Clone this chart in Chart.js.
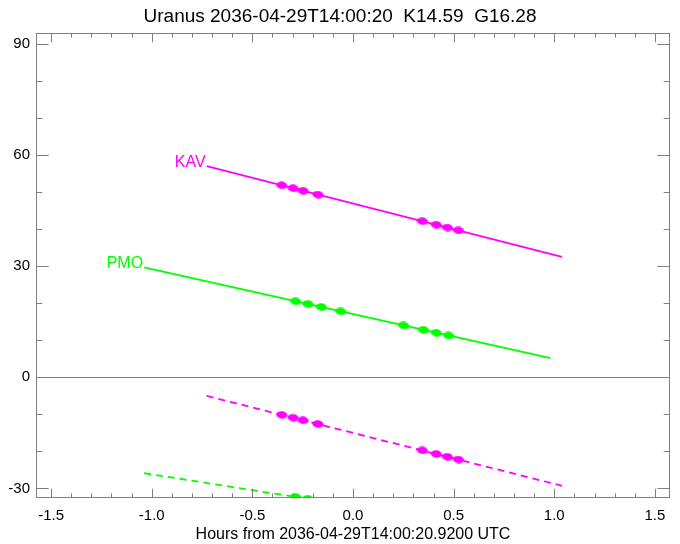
<!DOCTYPE html>
<html lang="en">
<head>
<meta charset="UTF-8">
<title>Uranus 2036-04-29T14:00:20</title>
<script src="https://cdn.jsdelivr.net/npm/chart.js"></script>
<style>
  html, body { margin: 0; padding: 0; background: #fff; }
  #wrap { width: 680px; height: 544px; }
</style>
</head>
<body>
<div id="wrap"><canvas id="uranusChart" width="680" height="544"></canvas></div>
<script>
// tick labels
const xTicks = [-1.5, -1.0, -0.5, 0.0, 0.5, 1.0, 1.5];
const yTicks = [-30, 0, 30, 60, 90];

// KAV track (solid = upper curve, dashed = lower curve)
const kavLineX = [-0.727, 1.038];
const kavLineY = [56.95, 32.5];
const kavDashY = [-5.04, -29.3];
const kavDotX = [-0.354, -0.297, -0.248, -0.174, 0.345, 0.414, 0.469, 0.524];
const kavDotY = [51.78, 50.99, 50.32, 49.29, 42.10, 41.15, 40.39, 39.62];
const kavDotDashY = [-10.16, -10.94, -11.62, -12.63, -19.76, -20.71, -21.46, -22.22];

// PMO track
const pmoLineX = [-1.038, 0.981];
const pmoLineY = [29.65, 5.12];
const pmoDashY = [-25.9, -43.1];
const pmoDotX = [-0.285, -0.224, -0.157, -0.061, 0.251, 0.350, 0.414, 0.475];
const pmoDotY = [20.50, 19.76, 18.95, 17.78, 13.99, 12.79, 12.01, 11.27];
const pmoDotDashY = [-32.3, -32.8, -33.4, -34.2, -36.9, -37.7, -38.3, -38.8];

const MAGENTA = '#ff00ff';
const GREEN = '#00ff00';
const AXIS = '#7f7f7f';
const FONT = "'Liberation Sans', Arial, Helvetica, sans-serif";

function pts(xs, ys) {
    return xs.map(function (x, i) { return {x: x, y: ys[i]}; });
}

// blob used for the observation points (two overlapping dots look like an ellipse)
function blob(color) {
    var c = document.createElement('canvas');
    c.width = 12; c.height = 8;
    var g = c.getContext('2d');
    g.fillStyle = color;
    g.beginPath();
    g.ellipse(6, 4, 5.6, 3.7, 0.12, 0, Math.PI * 2);
    g.fill();
    return c;
}

function lineSet(data, color, dashed) {
    return {
        data: data, showLine: true, borderColor: color, borderWidth: 1.8,
        borderDash: dashed ? [7, 5] : [], pointRadius: 0, fill: false
    };
}

function dotSet(data, color) {
    return {
        data: data, showLine: false, pointStyle: blob(color),
        pointRadius: 4, backgroundColor: color, borderColor: color
    };
}

const labels = [
    {text: 'KAV', color: MAGENTA, dataset: 0},
    {text: 'PMO', color: GREEN, dataset: 2}
];

const idlFrame = {
    id: 'idlFrame',
    beforeDatasetsDraw(chart) {
        var ctx = chart.ctx, a = chart.chartArea, y = chart.scales.y;
        var y0 = Math.round(y.getPixelForValue(0)) + 0.5;
        ctx.save();
        ctx.strokeStyle = AXIS;
        ctx.lineWidth = 1;
        ctx.beginPath();
        ctx.moveTo(a.left, y0);
        ctx.lineTo(a.right, y0);
        ctx.stroke();
        ctx.restore();
    },
    afterDatasetsDraw(chart) {
        var ctx = chart.ctx, a = chart.chartArea;
        var xs = chart.scales.x, ys = chart.scales.y;
        var h = a.bottom - a.top, w = a.right - a.left;
        var xMaj = 0.02 * h, yMaj = 0.02 * w;
        ctx.save();
        ctx.strokeStyle = AXIS;
        ctx.lineWidth = 1;
        ctx.strokeRect(a.left + 0.5, a.top + 0.5, w - 1, h - 1);
        ctx.beginPath();
        for (var i = -15; i <= 15; i++) {
            var px = Math.round(xs.getPixelForValue(i / 10)) + 0.5;
            if (px < a.left || px > a.right) continue;
            var len = (i % 5 === 0) ? xMaj : xMaj / 2;
            ctx.moveTo(px, a.bottom); ctx.lineTo(px, a.bottom - len);
            ctx.moveTo(px, a.top); ctx.lineTo(px, a.top + len);
        }
        for (var j = -3; j <= 9; j++) {
            var py = Math.round(ys.getPixelForValue(j * 10)) + 0.5;
            if (py < a.top || py > a.bottom) continue;
            var l2 = (j % 3 === 0) ? yMaj : yMaj / 2;
            ctx.moveTo(a.left, py); ctx.lineTo(a.left + l2, py);
            ctx.moveTo(a.right, py); ctx.lineTo(a.right - l2, py);
        }
        ctx.stroke();

        ctx.font = '16px ' + FONT;
        ctx.textAlign = 'right';
        ctx.textBaseline = 'alphabetic';
        labels.forEach(function (lb) {
            var p = chart.getDatasetMeta(lb.dataset).data[0];
            ctx.fillStyle = lb.color;
            ctx.fillText(lb.text, p.x - 1, p.y + 1);
        });
        ctx.restore();
    }
};

new Chart(document.getElementById('uranusChart').getContext('2d'), {
    type: 'scatter',
    data: {
        datasets: [
            lineSet(pts(kavLineX, kavLineY), MAGENTA, false),
            lineSet(pts(kavLineX, kavDashY), MAGENTA, true),
            lineSet(pts(pmoLineX, pmoLineY), GREEN, false),
            lineSet(pts(pmoLineX, pmoDashY), GREEN, true),
            dotSet(pts(kavDotX, kavDotY), MAGENTA),
            dotSet(pts(kavDotX, kavDotDashY), MAGENTA),
            dotSet(pts(pmoDotX, pmoDotY), GREEN),
            dotSet(pts(pmoDotX, pmoDotDashY), GREEN)
        ]
    },
    options: {
        responsive: false,
        animation: false,
        events: [],
        layout: {padding: 0},
        scales: {
            x: {
                type: 'linear', min: -1.575, max: 1.575,
                afterBuildTicks: function (s) { s.ticks = xTicks.map(function (v) { return {value: v}; }); },
                afterFit: function (s) { s.height = 46; },
                grid: {display: false, drawTicks: false},
                border: {display: false},
                ticks: {
                    color: '#000', padding: 9, maxRotation: 0, autoSkip: false,
                    font: {family: FONT, size: 15},
                    callback: function (v) { return Number(v).toFixed(1); }
                },
                title: {
                    display: true, text: 'Hours from 2036-04-29T14:00:20.9200 UTC',
                    color: '#000', font: {family: FONT, size: 16}, padding: {top: 0, bottom: 0}
                }
            },
            y: {
                type: 'linear', min: -32.6, max: 92.9,
                afterBuildTicks: function (s) { s.ticks = yTicks.map(function (v) { return {value: v}; }); },
                afterFit: function (s) { s.width = 36; },
                grid: {display: false, drawTicks: false},
                border: {display: false},
                ticks: {
                    color: '#000', padding: 6, autoSkip: false,
                    font: {family: FONT, size: 15},
                    callback: function (v) { return String(v); }
                }
            },
            yR: {
                type: 'linear', position: 'right', display: true,
                afterFit: function (s) { s.width = 10; },
                grid: {display: false, drawTicks: false},
                border: {display: false},
                ticks: {display: false}
            }
        },
        plugins: {
            legend: {display: false},
            tooltip: {enabled: false},
            title: {
                display: true, text: 'Uranus 2036-04-29T14:00:20  K14.59  G16.28',
                color: '#000', font: {family: FONT, size: 19, weight: 'normal', lineHeight: 1.2},
                padding: {top: 5, bottom: 5.2}
            }
        }
    },
    plugins: [idlFrame]
});
</script>
</body>
</html>
